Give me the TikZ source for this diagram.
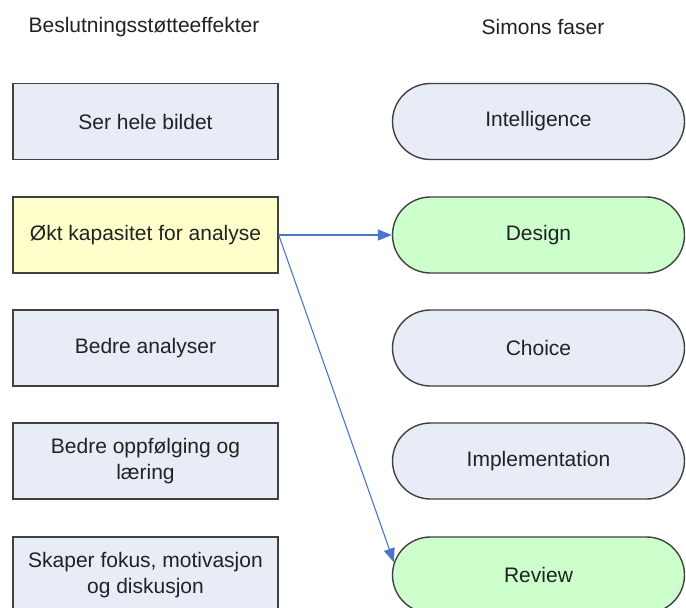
\documentclass[tikz,border=0pt]{standalone}
\usepackage{fontspec}
\setmainfont{Liberation Sans}
\usetikzlibrary{shapes.misc,arrows.meta}
\definecolor{boxlav}{RGB}{232,236,246}
\definecolor{boxyel}{RGB}{255,255,204}
\definecolor{boxgrn}{RGB}{204,255,204}
\definecolor{edge}{RGB}{64,64,64}
\definecolor{link}{RGB}{72,118,204}
\definecolor{ink}{RGB}{34,34,34}
\tikzset{
  every node/.style={font=\fontsize{21}{26.5}\selectfont, text=ink},
  effect/.style={draw=edge, line width=1.4pt, rectangle, minimum width=265pt,
    minimum height=76pt, inner sep=0pt, align=center, fill=boxlav},
  phase/.style={draw=edge, line width=1.4pt, rounded rectangle, rounded rectangle arc length=180,
    minimum width=292pt, minimum height=76pt, inner sep=0pt, fill=boxlav},
  header/.style={inner sep=0pt},
  link/.style={draw=link, line width=1.1pt, -{Triangle[length=14pt,width=11pt]}}
}
\begin{document}
\begin{tikzpicture}[x=1pt,y=-1pt]
  \useasboundingbox (0,0) rectangle (686,608);
  \clip (0,0) rectangle (686,608);

  % column headings
  \node[header] (hleft)  at (144,27) {Beslutningsstøtteeffekter};
  \node[header] (hright) at (543,27) {Simons faser};

  % decision support effects
  \node[effect] (e1) at (145.5,121.5) {Ser hele bildet};
  \node[effect, fill=boxyel] (e2) at (145.5,235) {Økt kapasitet for analyse};
  \node[effect] (e3) at (145.5,348) {Bedre analyser};
  \node[effect] (e4) at (145.5,461) {Bedre oppfølging og\\læring};
  \node[effect] (e5) at (145.5,575) {Skaper fokus, motivasjon\\og diskusjon};

  % Simon's phases
  \node[phase] (p1) at (538.5,121.5) {Intelligence};
  \node[phase, fill=boxgrn] (p2) at (538.5,235) {Design};
  \node[phase] (p3) at (538.5,348) {Choice};
  \node[phase] (p4) at (538.5,461) {Implementation};
  \node[phase, fill=boxgrn] (p5) at (538.5,575) {Review};

  % links
  \draw[link] (e2.east) -- (p2.west);
  \draw[link] (e2.east) -- (p5.175);
\end{tikzpicture}
\end{document}
